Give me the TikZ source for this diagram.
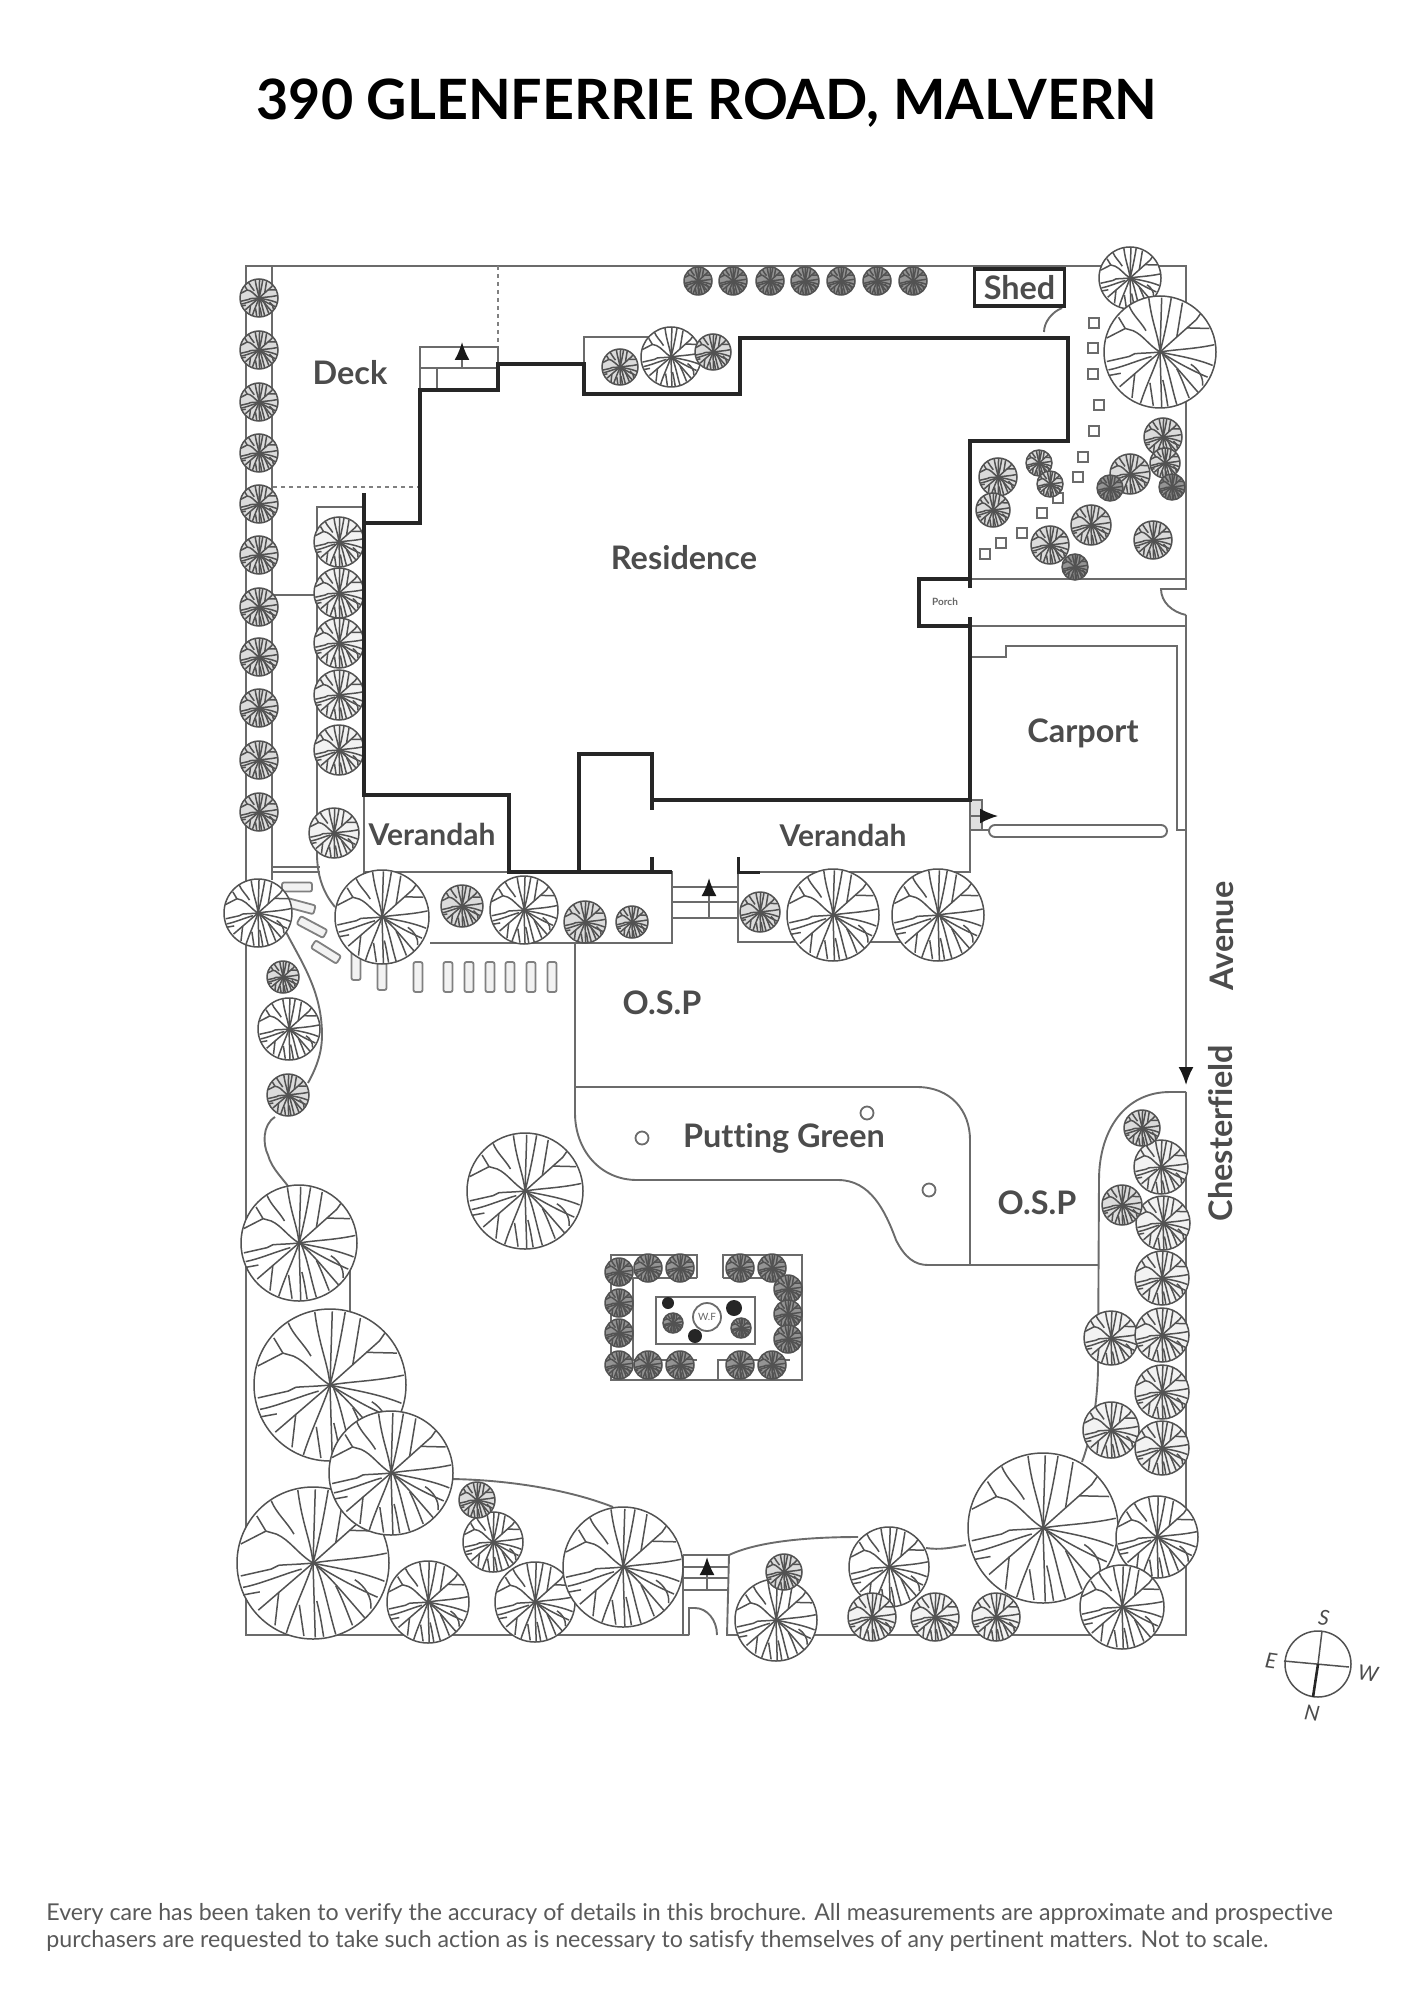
\documentclass[tikz,border=0pt]{standalone}
\usepackage{fontspec}
\setmainfont{Lato}[Ligatures=NoCommon]
\usetikzlibrary{arrows.meta}

\newcommand{\treetop}[4][white]{%
  \begin{scope}[shift={(#2,#3)},scale=#4]
  \draw[treeln,fill=#1] (0,0) circle[radius=1];
  \draw[treeln] (0,0)--(.03,-.97);
  \draw[treeln] (0,0)..controls (.08,-.3) and (.14,-.6)..(.2,-.96);
  \draw[treeln] (0,0)..controls (-.03,-.3) and (-.14,-.5)..(-.2,-.96);
  \draw[treeln] (0,0)..controls (-.2,-.12) and (-.3,-.3)..(-.48,-.38)--(-.62,-.42)--(-.74,-.62);
  \draw[treeln] (-.25,-.38)..controls (-.35,-.55) and (-.48,-.65)..(-.55,-.82);
  \draw[treeln] (-.62,-.42)--(-.95,-.25);
  \draw[treeln] (0,0)--(.65,-.58)--(.72,-.68);
  \draw[treeln] (.48,-.43)--(.88,-.42);
  \draw[treeln] (.3,-.27)--(.4,-.88);
  \draw[treeln] (0,0)..controls (.3,-.05) and (.6,-.05)..(.97,-.13);
  \draw[treeln] (0,0)..controls (.2,.05) and (.6,.1)..(.94,.24);
  \draw[treeln] (0,0)..controls (.25,.15) and (.5,.3)..(.85,.45);
  \draw[treeln] (.55,.22)..controls (.68,.3) and (.78,.45)..(.76,.6);
  \draw[treeln] (0,0)..controls (.2,.15) and (.4,.4)..(.68,.72);
  \draw[treeln] (.3,.3)..controls (.4,.5) and (.45,.65)..(.52,.82);
  \draw[treeln] (.05,.05)..controls (.15,.3) and (.2,.6)..(.3,.94);
  \draw[treeln] (.05,.5)..controls (.1,.7) and (.12,.85)..(.14,.97);
  \draw[treeln] (0,0)--(.03,.98);
  \draw[treeln] (0,0)..controls (-.1,.3) and (-.25,.6)..(-.35,.92);
  \draw[treeln] (-.18,.55)--(-.12,.96);
  \draw[treeln] (0,0)--(-.72,.62);
  \draw[treeln] (-.45,.38)--(-.5,.82);
  \draw[treeln] (0,0)..controls (-.2,.02) and (-.35,.02)..(-.45,.03)--(-.55,.08)--(-.95,.17);
  \draw[treeln] (-.15,.08)..controls (-.4,.15) and (-.7,.28)..(-.92,.32);
  \draw[treeln] (-.92,.42)--(-.7,.38);
  \end{scope}}

\begin{document}
\begin{tikzpicture}
[x=0.5pt,y=-0.5pt,
 treeln/.style={draw=black!68,line width=0.75pt},
 thinln/.style={draw=black!58,line width=0.95pt},
 dotln/.style={draw=black!50,line width=1pt,dash pattern=on 2pt off 2pt},
 wall/.style={draw=black!85,line width=2pt,line join=miter},
 lbl/.style={text=black!70,font=\fontsize{16.2}{18}\selectfont\bfseries,inner sep=0pt},
 paver/.style={draw=black!50,line width=0.9pt,fill=black!5,rounded corners=1pt,minimum width=4.5pt,minimum height=15pt,inner sep=0pt},
 stone/.style={draw=black!58,line width=0.9pt,minimum size=5pt,inner sep=0pt},
 hole/.style={circle,draw=black!58,line width=0.9pt,minimum size=6.5pt,inner sep=0pt},
 tipln/.style={thinln,-{Latex[length=9pt,width=7.5pt,black!90]}}]
\useasboundingbox (0,0) rectangle (1414,2000);

% boundary and garden lines
\draw[thinln] (689,1635)--(246,1635)--(246,266)--(1186,266)--(1186,589)--(1161,589)
  .. controls (1161,602) and (1172,612) .. (1186,615);
\draw[tipln] (1186,615)--(1186,1085);
\draw[thinln] (1186,1092)--(1170,1092) .. controls (1125,1092) and (1099,1130) .. (1099,1180)
  --(1098,1370) .. controls (1097,1410) and (1090,1440) .. (1082,1462);
\draw[thinln] (1186,1092)--(1186,1635)--(727,1635)--(729,1555);
\draw[thinln] (272,266)--(272,880);
\draw[thinln] (272,595)--(317,595);
\draw[thinln] (272,867)--(320,867);
\draw[thinln] (272,872)--(320,872);
\draw[thinln] (364,507)--(317,507)--(317,857) .. controls (318,880) and (325,895) .. (335,907);
\draw[thinln] (285,930) .. controls (300,960) and (322,990) .. (322,1035) .. controls (322,1055) and (315,1070) .. (308,1083);
\draw[thinln] (275,1117) .. controls (262,1125) and (263,1145) .. (268,1155) .. controls (272,1170) and (285,1180) .. (292,1192);
\draw[thinln] (350,1270)--(350,1320);
% deck
\draw[dotln] (498,266)--(498,347);
\draw[dotln] (273,487)--(420,487);
\draw[thinln] (420,390)--(420,347)--(498,347)--(498,390);
\draw[thinln] (420,368)--(498,368);
\draw[thinln] (437,368)--(437,390);
\draw[tipln] (462,368)--(462,342);
% planters by the verandahs
\draw[thinln] (584,364)--(584,337)--(650,337);
\draw[thinln] (364,795)--(364,872)--(672,872)--(672,943)--(430,943);
\foreach \y in {887,902,918} \draw[thinln] (672,\y)--(738,\y);
\draw[tipln] (709,918)--(709,878);
\draw[thinln] (738,872)--(738,942)--(938,942);
\draw[thinln] (738,872)--(970,872)--(970,800);
% drive and carport
\draw[thinln] (970,579)--(1186,579);
\draw[thinln] (970,626)--(1186,626);
\draw[thinln] (970,657)--(1006,657)--(1006,646)--(1177,646)--(1177,830)--(1186,830);
\draw[thinln,rounded corners=3pt] (989,825) rectangle (1167,837);
\draw[thinln,fill=black!12] (970,800) rectangle (982,830);
\draw[thinln] (982,830)--(989,830);
\draw[tipln] (970,816)--(998,816);
% shed door
\draw[thinln] (1044,332) .. controls (1044,322) and (1052,312) .. (1062,308);
% putting green
\draw[thinln] (575,943)--(575,1113) .. controls (575,1150) and (600,1180) .. (637,1180)--(838,1180)
  .. controls (870,1180) and (885,1210) .. (896,1240) .. controls (905,1258) and (915,1265) .. (928,1265)--(1098,1265);
\draw[thinln] (575,1087)--(917,1087) .. controls (950,1087) and (970,1110) .. (970,1140)--(970,1265);
\node[hole] (hole1) at (642,1138) {};
\node[hole] (hole2) at (867,1113) {};
\node[hole] (hole3) at (929,1190) {};
% front path and gate
\draw[thinln] (729,1555) .. controls (750,1545) and (790,1537) .. (858,1537);
\draw[thinln] (926,1548) .. controls (940,1550) and (950,1548) .. (966,1545);
\draw[thinln] (452,1479) .. controls (510,1480) and (570,1490) .. (613,1507);
\foreach \y in {1555,1567,1578,1590} \draw[thinln] (683,\y)--(729,\y);
\draw[thinln] (683,1555)--(683,1635);
\draw[thinln] (689,1635)--(689,1608)--(695,1608) .. controls (707,1608) and (717,1620) .. (717,1635);
\draw[tipln] (707,1590)--(707,1557);
% feature garden
\draw[thinln] (697,1278)--(697,1255)--(611,1255)--(611,1380)--(802,1380)--(802,1255)--(723,1255)--(723,1278);
\draw[thinln] (633,1278)--(633,1360);
\draw[thinln] (633,1278)--(697,1278);
\draw[thinln] (723,1278)--(790,1278);
\draw[thinln] (633,1360)--(697,1360);
\draw[thinln] (718,1380)--(718,1360)--(790,1360);
\draw[thinln] (656,1297) rectangle (755,1344);

% stepping stones
\foreach \x/\y/\a [count=\i] in {297/887/90,300/906/75,312/927/62,326/952/58,356/965/0,382/975/0,418/977/0,448/977/0,469/977/0,490/977/0,510/977/0,531/977/0,552/977/0}
  \node[paver,rotate=\a] (pv\i) at (\x,\y) {};
\foreach \x/\y [count=\i] in {1094/323,1093/348,1093/374,1099/405,1094/431,1083/457,1078/477,1058/498,1042/513,1022/533,1001/543,985/554}
  \node[stone] (st\i) at (\x,\y) {};

% trees
\foreach \y in {298,350,402,453,504,555,607,657,708,760,812} \treetop[black!14]{259}{\y}{19};
\foreach \x in {698,733,770,805,841,877,913} \treetop[black!42]{\x}{281}{14};
\foreach \y in {542,593,643,695,750} \treetop[black!5]{339}{\y}{25};
\foreach \x/\y/\r in {671/357/30,
  258/913/34,382/917/47,524/910/34,289/1029/31,
  525/1191/58,299/1243/58,330/1385/76,313/1563/76,391/1473/62,428/1602/41,493/1542/30,535/1602/40,623/1567/60,
  776/1620/41,889/1567/40,
  1043/1528/75,1157/1537/41,1122/1607/42,
  833/915/46,938/915/46,
  1130/278/31,1160/352/56}
  \treetop{\x}{\y}{\r};
\foreach \x/\y/\r in {334/833/25,1161/1167/27,1163/1223/27,1162/1278/27,1111/1338/27,1162/1335/27,1162/1392/27,1111/1430/28,1162/1448/27,872/1617/24,935/1617/24,996/1617/24}
  \treetop[black!5]{\x}{\y}{\r};
\foreach \x/\y/\r in {620/367/18,713/352/18,462/906/21,585/922/21,632/922/16,283/977/16,288/1095/21,477/1500/18,784/1572/18,
  760/912/20,1142/1128/18,1122/1205/20,
  998/477/19,993/510/17,1039/463/13,1050/484/13,1130/474/20,1163/437/19,1165/463/15,1091/525/20,1153/540/19,1050/545/19}
  \treetop[black!14]{\x}{\y}{\r};
\foreach \x/\y/\r in {1110/488/13,1172/487/13,1075/567/13,
  619/1272/14,648/1268/14,680/1268/14,740/1268/14,772/1268/14,788/1289/14,788/1314/14,788/1339/14,
  619/1303/14,619/1333/14,619/1365/14,648/1365/14,680/1365/14,740/1365/14,772/1365/14,
  673/1323/10,741/1328/10}
  \treetop[black!42]{\x}{\y}{\r};
\foreach \x/\y/\r in {668/1303/6,695/1336/7,734/1308/8}
  \fill[black!85] (\x,\y) circle[radius=\r];
\node[hole,minimum size=14pt,fill=white] (pond) at (707,1317) {};
\node[text=black!60,font=\fontsize{5}{6}\selectfont,inner sep=0pt] (pondLbl) at (707,1317) {W.F};

% residence walls
\draw[wall] (364,493)--(364,795)--(509,795)--(509,872)--(672,872);
\draw[wall] (579,872)--(579,754)--(652,754)--(652,810);
\draw[wall] (652,800)--(970,800)--(970,617);
\draw[wall] (970,626)--(919,626)--(919,579)--(970,579);
\draw[wall] (970,588)--(970,441)--(1068,441)--(1068,338)--(740,338)--(740,394)--(584,394)--(584,364)--(498,364)--(498,390)--(420,390)--(420,523)--(364,523);
\draw[wall] (652,857)--(652,872);
\draw[wall,line width=1.5pt] (738,857)--(738,872)--(760,872);

% labels
\node[font=\fontsize{27.8}{30}\selectfont\bfseries,text=black,inner sep=0pt] (title) at (707,103) {390 GLENFERRIE ROAD, MALVERN};
\node[lbl] (deckLbl) at (350,373) {Deck};
\node[lbl] (resLbl) at (684,558) {Residence};
\node[lbl] (carLbl) at (1083,733) {Carport};
\node[lbl,font=\fontsize{15}{18}\selectfont\bfseries] (verLbl) at (432,834) {Verandah};
\node[lbl,font=\fontsize{15}{18}\selectfont\bfseries] (verbLbl) at (843,835) {Verandah};
\node[lbl] (ospLbl) at (662,1003) {O.S.P};
\node[lbl] (ospbLbl) at (1037,1203) {O.S.P};
\node[lbl] (greenLbl) at (784,1138) {Putting Green};
\node[lbl,rotate=90] (chesLbl) at (1221,1133) {Chesterfield};
\node[lbl,rotate=90] (aveLbl) at (1222,936) {Avenue};
\node[text=black!60,font=\fontsize{5}{6}\selectfont\bfseries,inner sep=0pt] (porchLbl) at (945,602) {Porch};
\node[draw=black!85,line width=1.6pt,minimum width=45pt,minimum height=18.5pt,inner sep=0pt,lbl] (shed) at (1019.5,287.5) {Shed};

% compass
\draw[treeln] (1318,1664) circle[radius=33];
\draw[treeln] (1284,1661)--(1349,1667);
\draw[treeln] (1322,1631)--(1318,1664);
\draw[black!85,line width=1.3pt] (1318,1664)--(1313,1697);
\node[font=\fontsize{10.5}{12}\selectfont\itshape,text=black!70,inner sep=0pt,rotate=-8] (sLbl) at (1324,1618) {S};
\node[font=\fontsize{10.5}{12}\selectfont\itshape,text=black!70,inner sep=0pt,rotate=-8] (eLbl) at (1271,1661) {E};
\node[font=\fontsize{10.5}{12}\selectfont\itshape,text=black!70,inner sep=0pt,rotate=-8] (wLbl) at (1368,1673) {W};
\node[font=\fontsize{10.5}{12}\selectfont\itshape,text=black!70,inner sep=0pt,rotate=-8] (nLbl) at (1312,1713) {N};

% footer
\node[anchor=west,font=\fontsize{11.6}{13}\selectfont,text=black!65,inner sep=0pt] (footA) at (46,1914) {Every care has been taken to verify the accuracy of details in this brochure. All measurements are approximate and prospective};
\node[anchor=west,font=\fontsize{11.6}{13}\selectfont,text=black!65,inner sep=0pt] (footB) at (46,1941) {purchasers are requested to take such action as is necessary to satisfy themselves of any pertinent matters. Not to scale.};
\end{tikzpicture}
\end{document}
